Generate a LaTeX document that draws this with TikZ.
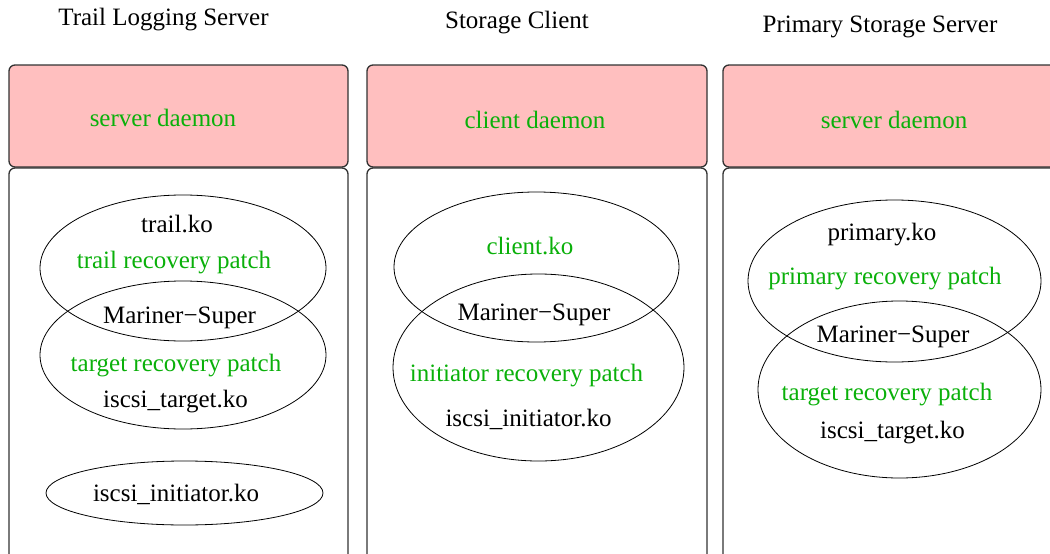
\documentclass[tikz,border=0pt]{standalone}
\usepackage{fontspec}
\setmainfont{Liberation Serif}
\usetikzlibrary{shapes.geometric}
\definecolor{daemonfill}{RGB}{255,191,191}
\definecolor{patchgreen}{RGB}{10,176,10}
\definecolor{boxline}{RGB}{50,50,50}
\tikzset{
  lbl/.style={anchor=base, inner sep=0pt, font=\fontsize{25}{30}\selectfont},
  green lbl/.style={lbl, text=patchgreen},
  daemonbox/.style={draw=boxline, line width=1.3pt, fill=daemonfill, rounded corners=6pt},
  kernelbox/.style={draw=boxline, line width=1.3pt, rounded corners=6pt},
  module/.style={ellipse, draw=black, line width=0.8pt, inner sep=0pt, outer sep=0pt},
}
\begin{document}
\begin{tikzpicture}[x=1pt, y=-1pt]
\useasboundingbox (0,0) rectangle (1050,554);
\clip (0,0) rectangle (1050,554);

% column titles
\node[lbl] (tTrail) at (163.5,25) {Trail Logging Server};
\node[lbl] (tClient) at (517,28) {Storage Client};
\node[lbl] (tPrimary) at (880,32) {Primary Storage Server};

% user-space daemon boxes
\draw[daemonbox] (9,65) rectangle (348,167);
\draw[daemonbox] (367,65) rectangle (707,167);
\draw[daemonbox] (723,65) rectangle (1065,167);

% kernel-space boxes
\draw[kernelbox] (9,168) rectangle (348,575);
\draw[kernelbox] (367,168) rectangle (707,575);
\draw[kernelbox] (723,168) rectangle (1065,575);

\node[green lbl] (dTrail) at (163,126) {server daemon};
\node[green lbl] (dClient) at (535,128) {client daemon};
\node[green lbl] (dPrimary) at (894,128) {server daemon};

% trail logging server modules
\node[module, minimum width=286pt, minimum height=146pt] (trailMod) at (183,268) {};
\node[module, minimum width=286pt, minimum height=148pt] (trailTgt) at (183,355) {};
\node[module, minimum width=277pt, minimum height=64pt] (trailIni) at (184.5,493) {};
\node[lbl] (a1) at (177,232) {trail.ko};
\node[green lbl] (a2) at (174,268) {trail recovery patch};
\node[lbl] (a3) at (179.5,323) {Mariner−Super};
\node[green lbl] (a4) at (176,371) {target recovery patch};
\node[lbl] (a5) at (175.5,407) {iscsi\_target.ko};
\node[lbl] (a6) at (176,501) {iscsi\_initiator.ko};

% storage client modules
\node[module, minimum width=285pt, minimum height=150pt] (clientMod) at (536.5,267) {};
\node[module, minimum width=291pt, minimum height=187pt] (clientIni) at (538.5,367.5) {};
\node[green lbl] (b1) at (530,254) {client.ko};
\node[lbl] (b2) at (534,320) {Mariner−Super};
\node[green lbl] (b3) at (526.5,381) {initiator recovery patch};
\node[lbl] (b4) at (528.5,426) {iscsi\_initiator.ko};

% primary storage server modules
\node[module, minimum width=293pt, minimum height=162pt] (primMod) at (894.5,281) {};
\node[module, minimum width=283pt, minimum height=177pt] (primTgt) at (899.5,389.5) {};
\node[lbl] (c1) at (882,240) {primary.ko};
\node[green lbl] (c2) at (885,284) {primary recovery patch};
\node[lbl] (c3) at (893,342) {Mariner−Super};
\node[green lbl] (c4) at (887,400) {target recovery patch};
\node[lbl] (c5) at (892.5,438) {iscsi\_target.ko};
\end{tikzpicture}
\end{document}
